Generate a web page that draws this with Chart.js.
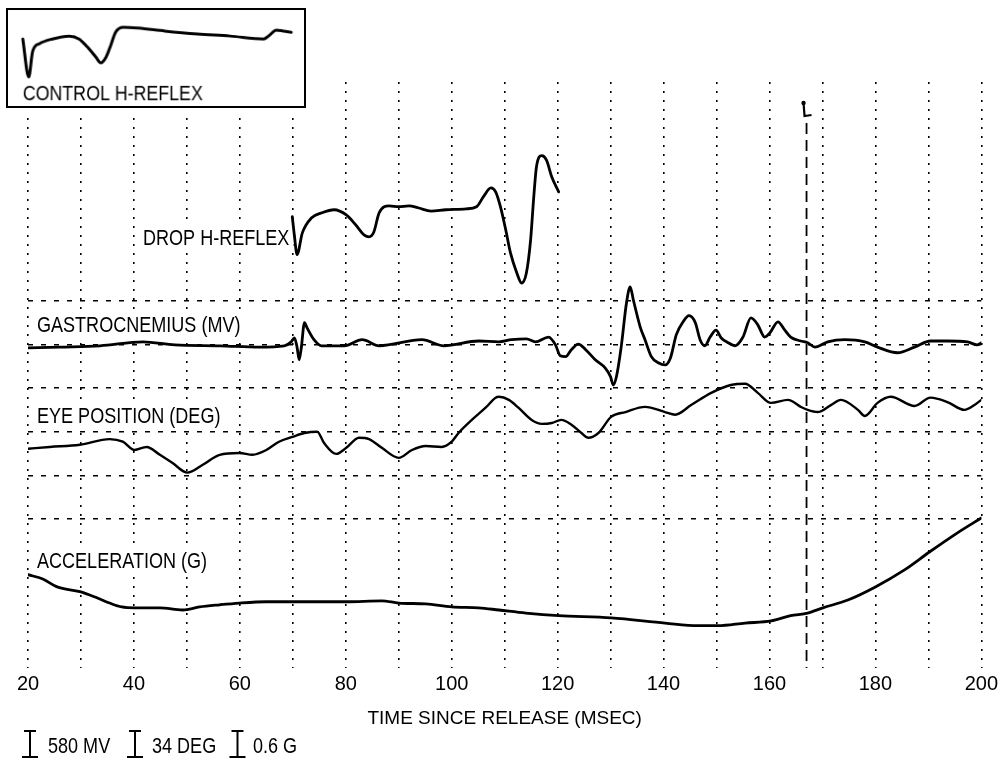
<!DOCTYPE html>
<html><head><meta charset="utf-8">
<script src="https://cdn.jsdelivr.net/npm/chart.js@4"></script>
<style>
html,body{margin:0;padding:0;background:#fff;}
#wrap{position:relative;width:1002px;height:759px;overflow:hidden;}
#main{position:absolute;left:0;top:0;}
#cover{position:absolute;left:2px;top:4px;width:313px;height:114px;background:#fff;}
#inset{position:absolute;left:6px;top:8px;border:2px solid #000;background:#fff;}
</style></head><body>
<div id="wrap">
<canvas id="main" width="1002" height="759"></canvas>
<div id="cover"></div>
<canvas id="inset" width="300" height="100"></canvas>
</div>
<script>
// ---- data (time in ms, amplitude in grid divisions) ----
const xTickLabels = [20, 40, 60, 80, 100, 120, 140, 160, 180, 200];
const gridRows = [0, 1, 2, 3, 4, 5];
const markerMs = 167;

const dropX = [69.9, 70.3, 70.8, 71.8, 73.5, 75.5, 77.8, 80.1, 81.9, 83.5, 84.4, 85.3, 86.3, 88.2, 90.0, 91.9, 93.8, 96.1, 98.9, 102.7, 104.7, 106.0, 107.4, 108.3, 109.2, 110.2, 111.1, 112.3, 113.2, 114.1, 114.9, 115.5, 116.0, 117.0, 117.9, 118.9, 120.2];
const dropY = [6.93, 6.50, 6.06, 6.56, 6.90, 7.02, 7.09, 6.97, 6.74, 6.51, 6.47, 6.58, 7.02, 7.18, 7.16, 7.18, 7.13, 7.06, 7.09, 7.11, 7.16, 7.39, 7.59, 7.50, 7.16, 6.63, 6.10, 5.64, 5.41, 5.64, 6.40, 7.39, 8.07, 8.33, 8.23, 7.84, 7.50];

const gastroX = [20.0, 26.0, 33.6, 41.7, 47.7, 56.2, 63.7, 68.4, 69.7, 70.3, 70.8, 71.2, 71.6, 72.2, 72.7, 74.0, 75.4, 79.7, 83.1, 86.3, 94.4, 98.5, 105.1, 108.9, 111.3, 114.1, 115.8, 118.3, 119.6, 120.5, 121.5, 122.6, 123.9, 125.3, 127.1, 129.0, 130.0, 130.5, 131.1, 132.0, 133.0, 133.7, 134.3, 135.6, 136.5, 137.7, 139.0, 140.3, 141.3, 142.4, 143.7, 144.8, 146.0, 146.9, 147.8, 148.8, 149.9, 150.9, 152.2, 153.5, 155.0, 156.5, 157.8, 159.1, 160.1, 161.6, 162.9, 164.0, 165.9, 167.2, 168.6, 171.0, 174.2, 178.0, 180.4, 184.2, 187.4, 190.4, 193.6, 197.4, 199.2, 200.0];
const gastroY = [3.92, 3.94, 3.97, 4.06, 3.99, 3.97, 3.94, 3.97, 4.06, 4.15, 3.94, 3.65, 3.92, 4.50, 4.38, 4.11, 3.97, 3.97, 4.11, 3.97, 4.11, 3.97, 4.08, 4.06, 4.11, 4.13, 4.06, 4.17, 3.99, 3.74, 3.72, 3.88, 4.01, 3.88, 3.65, 3.46, 3.26, 3.07, 3.26, 3.94, 4.95, 5.32, 5.02, 4.40, 4.11, 3.72, 3.58, 3.53, 3.69, 4.22, 4.52, 4.66, 4.50, 4.11, 3.97, 4.17, 4.33, 4.15, 4.04, 3.97, 4.17, 4.61, 4.45, 4.17, 4.27, 4.52, 4.33, 4.17, 4.08, 4.04, 3.94, 4.06, 4.11, 4.06, 3.94, 3.81, 3.94, 4.08, 4.08, 4.06, 3.99, 4.04];

const eyeX = [20.0, 24.1, 29.8, 35.4, 37.9, 40.1, 42.4, 44.9, 47.3, 50.1, 53.0, 56.2, 59.9, 62.4, 65.0, 67.4, 69.9, 72.2, 74.6, 75.9, 78.2, 80.1, 82.5, 84.4, 86.8, 90.0, 92.5, 95.1, 98.1, 100.0, 101.3, 103.8, 106.4, 108.3, 108.9, 110.8, 112.6, 115.1, 117.0, 118.9, 120.7, 122.6, 124.5, 125.8, 127.7, 130.1, 132.8, 136.5, 140.3, 142.2, 145.2, 149.0, 152.7, 155.4, 157.8, 160.3, 163.5, 165.9, 167.2, 169.1, 171.6, 173.5, 176.7, 178.0, 180.4, 182.9, 187.4, 190.4, 193.6, 196.8, 198.7, 200.0];
const eyeY = [1.61, 1.65, 1.70, 1.83, 1.77, 1.58, 1.65, 1.47, 1.28, 1.06, 1.24, 1.47, 1.51, 1.47, 1.58, 1.77, 1.88, 1.97, 2.00, 1.74, 1.49, 1.63, 1.86, 1.83, 1.63, 1.40, 1.58, 1.67, 1.65, 1.77, 1.97, 2.27, 2.55, 2.78, 2.80, 2.73, 2.55, 2.27, 2.18, 2.20, 2.27, 2.16, 1.97, 1.86, 1.97, 2.34, 2.45, 2.57, 2.45, 2.39, 2.61, 2.89, 3.07, 3.10, 2.89, 2.66, 2.73, 2.57, 2.50, 2.45, 2.61, 2.73, 2.50, 2.36, 2.66, 2.80, 2.59, 2.78, 2.68, 2.50, 2.61, 2.73];

const accelX = [20.0, 22.8, 25.5, 29.8, 33.0, 35.4, 37.7, 40.1, 44.9, 49.2, 52.4, 56.2, 59.9, 65.0, 69.9, 75.0, 80.1, 86.8, 90.0, 95.1, 100.0, 105.1, 108.9, 114.0, 120.2, 130.1, 140.3, 146.5, 150.3, 155.4, 160.3, 164.0, 167.2, 170.1, 174.8, 180.0, 185.5, 190.2, 195.5, 200.0];
const accelY = [-1.28, -1.38, -1.56, -1.67, -1.81, -1.93, -2.02, -2.04, -2.04, -2.09, -2.02, -1.97, -1.93, -1.90, -1.90, -1.90, -1.90, -1.88, -1.93, -1.95, -2.02, -2.04, -2.09, -2.16, -2.22, -2.27, -2.39, -2.45, -2.45, -2.39, -2.34, -2.22, -2.16, -2.04, -1.86, -1.56, -1.17, -0.76, -0.32, 0.02];

const controlX = [2.82, 3.95, 4.71, 6.03, 8.47, 11.67, 13.56, 15.06, 16.76, 17.70, 18.64, 19.58, 20.52, 22.03, 24.85, 29.94, 36.15, 42.36, 48.77, 49.71, 51.21, 52.54, 54.04];
const controlY = [1.67, 0.76, 1.38, 1.56, 1.67, 1.74, 1.67, 1.49, 1.24, 1.10, 1.22, 1.51, 1.83, 1.95, 1.93, 1.86, 1.79, 1.74, 1.67, 1.74, 1.88, 1.86, 1.83];

const scaleBars = ['580 MV', '34 DEG', '0.6 G'];

// ---- drawing ----
const FAMILY = '"Liberation Sans", Arial, sans-serif';
const NARROW = 0.82;

const mkPts = (xs, ys) => xs.map((x, i) => ({x: x, y: ys[i]}));
const lineDs = (label, xs, ys, w) => ({
  label: label, data: mkPts(xs, ys), borderColor: '#000', borderWidth: w,
  pointRadius: 0, fill: false, cubicInterpolationMode: 'monotone',
  borderJoinStyle: 'round', borderCapStyle: 'round'
});

// condensed text (emulates the narrow typeface of the original)
function narrowText(ctx, text, x, baseline, bg) {
  ctx.save();
  ctx.font = '22px ' + FAMILY;
  const w = ctx.measureText(text).width * NARROW;
  if (bg) {
    ctx.fillStyle = '#fff';
    ctx.fillRect(x - 4, baseline - 20, w + 8, 25);
  }
  ctx.translate(x, baseline);
  ctx.scale(NARROW, 1);
  ctx.fillStyle = '#000';
  ctx.textBaseline = 'alphabetic';
  ctx.textAlign = 'left';
  ctx.fillText(text, 0, 0);
  ctx.restore();
}

const annotPlugin = {
  id: 'annot',
  beforeDatasetsDraw(chart) {
    const ctx = chart.ctx;
    const xs = chart.scales.x;
    narrowText(ctx, 'DROP H-REFLEX', 143, 245, true);
    narrowText(ctx, 'GASTROCNEMIUS (MV)', 37, 332, true);
    narrowText(ctx, 'EYE POSITION (DEG)', 37, 423, true);
    narrowText(ctx, 'ACCELERATION (G)', 37, 568, true);
    // dashed marker line
    const mx = xs.getPixelForValue(markerMs);
    ctx.save();
    ctx.strokeStyle = '#000';
    ctx.lineWidth = 1.8;
    ctx.setLineDash([11, 6]);
    ctx.beginPath();
    ctx.moveTo(mx, 123);
    ctx.lineTo(mx, chart.chartArea.bottom);
    ctx.stroke();
    ctx.setLineDash([]);
    ctx.lineWidth = 2.2;
    ctx.beginPath();
    ctx.moveTo(mx - 3, 103);
    ctx.lineTo(mx - 2, 116);
    ctx.lineTo(mx + 5, 115);
    ctx.stroke();
    ctx.beginPath();
    ctx.arc(mx - 3, 103, 2.2, 0, Math.PI * 2);
    ctx.fillStyle = '#000';
    ctx.fill();
    ctx.restore();
  },
  afterDraw(chart) {
    const ctx = chart.ctx;
    const beamX = [30, 135, 237.5];
    const textX = [48, 152, 253];
    scaleBars.forEach((t, i) => {
      const bx = beamX[i];
      ctx.save();
      ctx.strokeStyle = '#000';
      ctx.lineWidth = 2;
      ctx.beginPath();
      ctx.moveTo(bx, 731); ctx.lineTo(bx, 757);
      ctx.stroke();
      ctx.lineWidth = 2.2;
      ctx.beginPath();
      ctx.moveTo(bx - 6, 731); ctx.lineTo(bx + 6, 731);
      ctx.moveTo(bx - 8, 757); ctx.lineTo(bx + 8, 757);
      ctx.stroke();
      ctx.restore();
      narrowText(ctx, t, textX[i], 753, false);
    });
  }
};

new Chart(document.getElementById('main'), {
  type: 'line',
  data: {datasets: [
    lineDs('Drop H-reflex', dropX, dropY, 2.8),
    lineDs('Gastrocnemius (mV)', gastroX, gastroY, 2.8),
    lineDs('Eye position (deg)', eyeX, eyeY, 2.4),
    lineDs('Acceleration (G)', accelX, accelY, 2.8)
  ]},
  options: {
    responsive: false, animation: false, devicePixelRatio: 1,
    layout: {padding: {left: 28, right: 18, top: 82, bottom: 0}},
    plugins: {legend: {display: false}, tooltip: {enabled: false}},
    scales: {
      x: {
        type: 'linear', min: 20, max: 200,
        afterBuildTicks: s => { const t = []; for (let v = 20; v <= 200; v += 10) t.push({value: v}); s.ticks = t; },
        ticks: {autoSkip: false, maxRotation: 0, padding: 4, color: '#000', font: {family: FAMILY, size: 20},
                callback: v => xTickLabels.includes(v) ? String(v) : ''},
        grid: {color: '#000', lineWidth: 1.6, drawTicks: false},
        border: {display: false, dash: [2, 7]},
        title: {display: true, text: 'TIME SINCE RELEASE (MSEC)', color: '#000',
                font: {family: FAMILY, size: 19}, padding: {top: 0, bottom: 29}},
        afterFit: s => { s.height = 91; }
      },
      y: {
        type: 'linear', min: -3.42, max: 10.02,
        afterBuildTicks: s => { s.ticks = gridRows.map(v => ({value: v})); },
        ticks: {display: false},
        grid: {color: '#000', lineWidth: 1.5, drawTicks: false},
        border: {display: false, dash: [5, 8]},
        afterFit: s => { s.width = 0; }
      }
    }
  },
  plugins: [annotPlugin]
});

const insetLabel = {
  id: 'insetLabel',
  afterDraw(chart) {
    narrowText(chart.ctx, 'CONTROL H-REFLEX', 15, 94, false);
  }
};

new Chart(document.getElementById('inset'), {
  type: 'line',
  data: {datasets: [lineDs('Control H-reflex', controlX, controlY, 3)]},
  options: {
    responsive: false, animation: false, devicePixelRatio: 1,
    layout: {padding: 0},
    plugins: {legend: {display: false}, tooltip: {enabled: false}},
    scales: {
      x: {type: 'linear', display: false, min: 0, max: 56.49},
      y: {type: 'linear', display: false, min: 0.069, max: 2.362}
    }
  },
  plugins: [insetLabel]
});
</script>
</body></html>
